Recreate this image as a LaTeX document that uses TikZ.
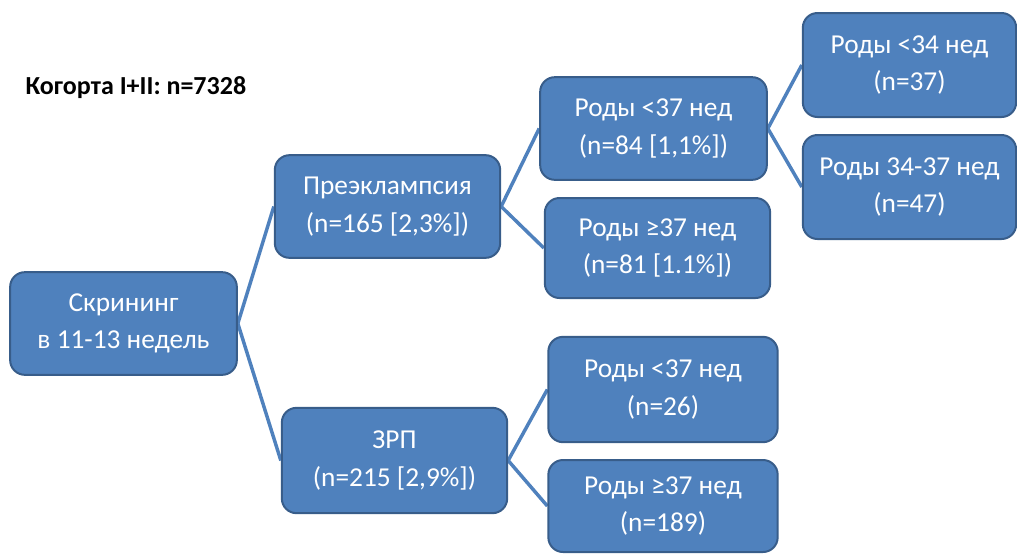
\documentclass[tikz,border=0pt]{standalone}
\usepackage{fontspec}
\setmainfont{Carlito}
\usetikzlibrary{backgrounds}
\definecolor{boxfill}{HTML}{4F81BD}
\definecolor{boxline}{HTML}{385D8A}
\tikzset{
  box/.style={draw=boxline, line width=1.5pt, fill=boxfill, rounded corners=11pt,
    text=white, align=center, font=\fontsize{20.5}{28}\selectfont, inner sep=2pt},
  link/.style={draw=boxfill, line width=2.6pt}
}
\begin{document}
\begin{tikzpicture}[x=0.75pt, y=-0.75pt]
\useasboundingbox (0,0) rectangle (1017,558);
\node[anchor=west, font=\bfseries\fontsize{19.5}{23}\selectfont] (title) at (21,88) {Когорта I+II: n=7328};
\node[box, minimum width=170pt, minimum height=77pt] (scr) at (123.5,323.5) {Скрининг\\в 11-13 недель};
\node[box, minimum width=169pt, minimum height=77pt] (pre) at (387.5,206.5) {Преэклампсия\\(n=165 [2,3\%])};
\node[box, minimum width=169pt, minimum height=79pt] (zrp) at (394.5,460.5) {ЗРП\\(n=215 [2,9\%])};
\node[box, minimum width=170pt, minimum height=77pt] (a1) at (653.5,128.5) {Роды <37 нед\\(n=84 [1,1\%])};
\node[box, minimum width=169pt, minimum height=75pt] (a2) at (657.5,248) {Роды ≥37 нед\\(n=81 [1.1\%])};
\node[box, minimum width=172pt, minimum height=79pt] (b1) at (663,389.5) {Роды <37 нед\\(n=26)};
\node[box, minimum width=172pt, minimum height=69pt] (b2) at (663,506) {Роды ≥37 нед\\(n=189)};
\node[box, minimum width=160pt, minimum height=78pt] (c1) at (909.5,65) {Роды <34 нед\\(n=37)};
\node[box, minimum width=160pt, minimum height=78pt] (c2) at (909.5,187) {Роды 34-37 нед\\(n=47)};
\begin{scope}[on background layer]
\draw[link] (scr.east) -- (pre.west);
\draw[link] (scr.east) -- (zrp.west);
\draw[link] (pre.east) -- (a1.west);
\draw[link] (pre.east) -- (a2.west);
\draw[link] (zrp.east) -- (b1.west);
\draw[link] (zrp.east) -- (b2.west);
\draw[link] (a1.east) -- (c1.west);
\draw[link] (a1.east) -- (c2.west);
\end{scope}
\end{tikzpicture}
\end{document}
